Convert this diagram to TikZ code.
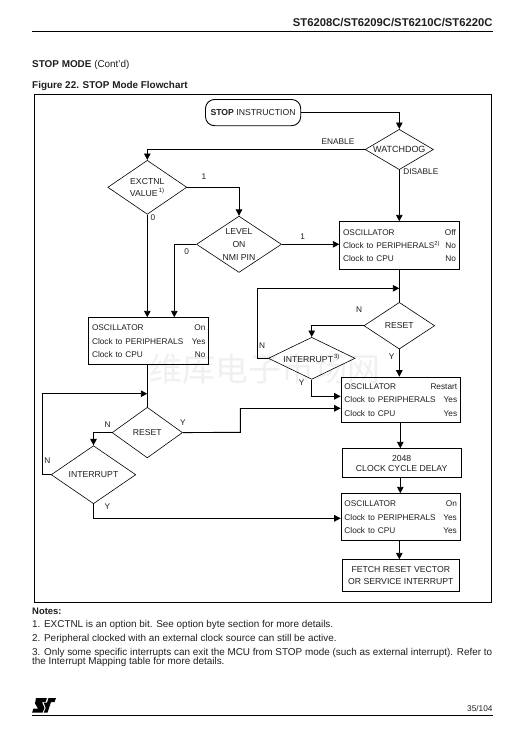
\documentclass[tikz,border=0pt]{standalone}
\usepackage{fontspec}
\setmainfont{Liberation Sans}
\newfontfamily\cjk{Noto Sans CJK SC}
\usetikzlibrary{shapes.geometric,arrows.meta,calc}
\definecolor{ink}{gray}{0.12}
\tikzset{
 x=1bp,y=-1bp,
 every node/.style={font=\fontsize{8.7}{10}\selectfont,text=ink,inner sep=0pt},
 conn/.style={line width=.9pt,-{Triangle[length=6.5bp,width=6.5bp]}},
 line/.style={line width=.9pt},
 box/.style={draw,line width=.9pt,anchor=north west,align=center},
 lab/.style={font=\fontsize{8.3}{10}\selectfont},
 note/.style={anchor=base west,font=\fontsize{9.95}{11}\selectfont},
 diam/.style={draw,line width=.6pt,diamond,aspect=#1,inner sep=0pt,align=center},
 statebox/.style n args={2}{draw,line width=.9pt,anchor=north west,minimum width=#1,minimum height=#2,text width=#1-6.6bp,align=left},
}
\newcommand{\rowtext}[6]{\fontsize{8.3}{13.4bp}\selectfont #1\hfill#2\par #3\hfill#4\par #5\hfill#6\par}
\begin{document}
\begin{tikzpicture}
\useasboundingbox (0,0) rectangle (524,744);
\fill[white] (0,0) rectangle (524,744);
% watermark
\node[font=\cjk\fontsize{33}{36}\selectfont,text=black!6] (wm) at (265,369) {维库电子市场网};
% header
\node[anchor=base east,font=\bfseries\fontsize{11.3}{13}\selectfont] (hd) at (492.7,27) {ST6208C/ST6209C/ST6210C/ST6220C};
\draw[line width=.9pt] (32,31.3) -- (492.7,31.3);
\node[note] (t1) at (32,68) {\textbf{STOP MODE} (Cont'd)};
\node[note,font=\bfseries\fontsize{9.95}{11}\selectfont] (t2) at (32,88) {Figure 22. STOP Mode Flowchart};
% frame
\draw[line width=.9pt] (34.5,94.5) rectangle (491,602);
% nodes
\node[draw,line width=.9pt,rounded corners=9bp,minimum width=95.2bp,minimum height=26.2bp] (start) at (253.1,112.6) {\textbf{STOP} INSTRUCTION};
\node[diam=1.69,minimum width=68.3bp,minimum height=40.3bp,font=\fontsize{9}{10}\selectfont] (wd) at (399.3,149.5) {WATCHDOG};
\node[diam=1.46,minimum width=79bp,minimum height=54bp] (ex) at (147.3,187.3) {EXCTNL\\[1.5bp]VALUE\textsuperscript{\,1)}};
\node[diam=1.51,minimum width=85bp,minimum height=56.3bp] (lv) at (239,244.3) {LEVEL\\[2.8bp]ON\\[2.8bp]NMI PIN};
\node[statebox={119.4bp}{47.4bp}] (b1) at (339.3,221.3) {\rowtext{OSCILLATOR}{Off}{Clock to PERIPHERALS\textsuperscript{2)}}{No}{Clock to CPU}{No}};
\node[diam=1.52,minimum width=70.7bp,minimum height=46.7bp] (r1) at (399.3,325.7) {RESET};
\node[diam=2.06,minimum width=86.7bp,minimum height=42bp] (i1) at (311.7,358.3) {INTERRUPT\textsuperscript{\,3)}};
\node[statebox={120bp}{47bp}] (b2) at (88.3,317.3) {\rowtext{OSCILLATOR}{On}{Clock to PERIPHERALS}{Yes}{Clock to CPU}{No}};
\node[statebox={119.3bp}{45.6bp}] (b3) at (340.7,376.7) {\rowtext{OSCILLATOR}{Restart}{Clock to PERIPHERALS}{Yes}{Clock to CPU}{Yes}};
\node[diam=1.39,minimum width=70.4bp,minimum height=50.6bp] (r2) at (147.3,432.6) {RESET};
\node[diam=1.46,minimum width=84.6bp,minimum height=58bp] (i2) at (93.5,474.7) {INTERRUPT};
\node[box,minimum width=119bp,minimum height=29bp] (dl) at (341.7,448.3) {2048\\CLOCK CYCLE DELAY};
\node[statebox={119bp}{47bp}] (b4) at (340.7,493.3) {\rowtext{OSCILLATOR}{On}{Clock to PERIPHERALS}{Yes}{Clock to CPU}{Yes}};
\node[box,minimum width=117.3bp,minimum height=31.4bp] (ft) at (341.7,559.3) {FETCH RESET VECTOR\\[2.8bp]OR SERVICE INTERRUPT};
% connector helper points
\coordinate (j1) at (399.3,288.3);
\coordinate (l1) at (257.3,288.3);
\coordinate (j2) at (147.3,393.7);
\coordinate (l2) at (42.3,393.7);
\coordinate (p3) at (340.7,396.3);
\coordinate (p4) at (340.7,408.3);
\coordinate (k4) at (240.3,432.3);
\coordinate (k5) at (240.3,408.3);
\coordinate (p5) at (340.7,518.3);
\coordinate (p1) at (339.3,244.3);
\coordinate (q1) at (174.3,317.3);
\coordinate (q2) at (147.3,317.3);
\coordinate (b1s) at (399.3,268.7);
\coordinate (b1n) at (399.3,221.3);
\coordinate (b3n) at (399.3,376.7);
\coordinate (b3s) at (400.3,422.3);
\coordinate (dln) at (400.3,448.3);
\coordinate (dls) at (400.3,477.3);
\coordinate (b4n) at (400.3,493.3);
\coordinate (b4s) at (399.3,540.3);
\coordinate (ftn) at (399.3,559.3);
\coordinate (b2s) at (147.3,364.3);
% connectors
\draw[conn] (start.east) -| (wd.north);
\draw[conn] (wd.west) -| (ex.north);
\draw[conn] (wd.south) -- (b1n);
\draw[conn] (ex.east) -| (lv.north);
\draw[conn] (ex.south) -- (q2);
\draw[conn] (lv.west) -| (q1);
\draw[conn] (lv.east) -- (p1);
\draw[line] (b1s) -- (r1.north);
\draw[conn] (i1.west) -| (l1) -- (j1);
\draw[conn] (r1.west) -| (i1.north);
\draw[conn] (r1.south) -- (b3n);
\draw[conn] (i1.south) |- (p3);
\draw[line] (r2.east) -- (k4) -- (k5);
\draw[conn] (k5) -- (p4);
\draw[line] (b2s) -- (r2.north);
\draw[conn] (r2.west) -| (i2.north);
\draw[conn] (i2.west) -| (l2) -- (j2);
\draw[conn] (i2.south) |- (p5);
\draw[conn] (b3s) -- (dln);
\draw[conn] (dls) -- (b4n);
\draw[conn] (b4s) -- (ftn);
% labels
\node[lab] (la) at (338,142) {ENABLE};
\node[lab] (lb) at (420.8,171.7) {DISABLE};
\node[lab] (lc) at (204,176.7) {1};
\node[lab] (ld) at (153,218) {0};
\node[lab] (le) at (186.7,252) {0};
\node[lab] (lf) at (302.7,236.7) {1};
\node[lab] (lg) at (359,310) {N};
\node[lab] (lh) at (262,346) {N};
\node[lab] (li) at (391.7,356.7) {Y};
\node[lab] (lj) at (301.7,382.7) {Y};
\node[lab] (lk) at (107.7,425) {N};
\node[lab] (ll) at (183,422.7) {Y};
\node[lab] (lm) at (47.3,461) {N};
\node[lab] (ln) at (107.3,506.7) {Y};
% notes
\node[note,font=\bfseries\fontsize{9.5}{11}\selectfont] (n0) at (32,614) {Notes:};
\node[note] (n1) at (32,627.3) {1. EXCTNL is an option bit. See option byte section for more details.};
\node[note] (n2) at (32,641) {2. Peripheral clocked with an external clock source can still be active.};
\node[note] (n3) at (32,655) {3. Only some specific interrupts can exit the MCU from STOP mode (such as external interrupt). Refer to};
\node[note] (n4) at (32,664.5) {the Interrupt Mapping table for more details.};
% logo
\fill[black] (36,698) -- (47,698) -- (45.5,702) -- (42,702) -- (44.5,708) -- (42.5,712.7) -- (32,712.7) -- (33.5,708.5) -- (38,708.5) -- (35,703.5) -- cycle;
\fill[black] (48.5,698) -- (56,698) -- (54.5,702) -- (51,702) -- (47.5,712.7) -- (43.7,712.7) -- (45.7,708) -- (43.8,702.5) -- (47,702.5) -- cycle;
\node[anchor=base east,font=\fontsize{8.3}{10}\selectfont] (pg) at (492.7,711) {35/104};
\draw[line width=.9pt] (32,715.7) -- (492.7,715.7);
\end{tikzpicture}
\end{document}
